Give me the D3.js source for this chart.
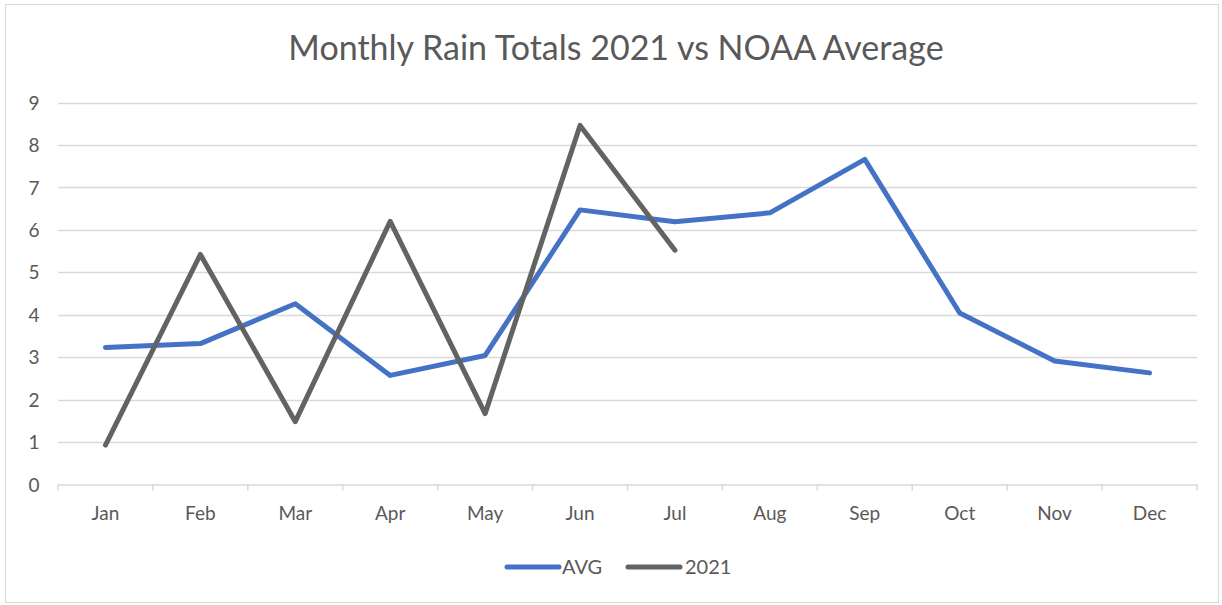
<!DOCTYPE html>
<html><head><meta charset="utf-8">
<script src="https://cdn.jsdelivr.net/npm/d3@7"></script>
<style>body{margin:0;background:#fff;}svg{display:block;font-family:Lato,"Open Sans",sans-serif;}</style>
</head><body><svg id="c" width="1222" height="605"></svg>
<script>
const months = ["Jan","Feb","Mar","Apr","May","Jun","Jul","Aug","Sep","Oct","Nov","Dec"];
const avgValues = [3.23,3.32,4.26,2.57,3.04,6.47,6.19,6.40,7.66,4.04,2.91,2.63];
const values2021 = [0.93,5.42,1.48,6.20,1.67,8.46,5.52];
const yTicks = [0,1,2,3,4,5,6,7,8,9];
const seriesNames = ["AVG","2021"];
const colors = ["#4472C4","#636363"];

const svg = d3.select("#c");
svg.append("rect").attr("x",5.5).attr("y",4.5).attr("width",1213).attr("height",598)
  .attr("fill","#fff").attr("stroke","#d9d9d9").attr("stroke-width",1);

const L=58, R=1197, T=102.5, B=484.5;
const x = d3.scaleBand().domain(months).range([L,R]);
const y = d3.scaleLinear().domain([0,9]).range([B,T]);

svg.append("text").attr("x",616).attr("y",60).attr("text-anchor","middle")
  .attr("font-size",34).attr("fill","#595959").text("Monthly Rain Totals 2021 vs NOAA Average");

// gridlines
svg.append("g").selectAll("line").data(yTicks.filter(d=>d>0)).join("line")
  .attr("x1",L).attr("x2",R).attr("y1",d=>Math.round(y(d))+0.5).attr("y2",d=>Math.round(y(d))+0.5)
  .attr("stroke","#d9d9d9").attr("stroke-width",1.5);

// y labels
const yAxis = d3.axisLeft(y).tickValues(yTicks).tickSize(0).tickPadding(0).tickFormat(d3.format("d"));
const gy = svg.append("g").attr("transform",`translate(${L-24},0)`).call(yAxis);
gy.select(".domain").remove();
gy.selectAll("text").attr("font-size",19).attr("fill","#595959").attr("font-family","Lato,'Open Sans',sans-serif").attr("text-anchor","middle").attr("dy","0.35em");

// x axis
const gx = svg.append("g").attr("transform",`translate(0,${B})`)
  .call(d3.axisBottom(x).tickSize(0).tickPadding(22));
gx.select(".domain").attr("stroke","#d9d9d9").attr("stroke-width",1.5);
gx.selectAll("text").attr("font-size",19).attr("fill","#595959").attr("font-family","Lato,'Open Sans',sans-serif");
// category boundary ticks
const bounds = months.map(m=>x(m)).concat([R]);
svg.append("g").selectAll("line").data(bounds).join("line")
  .attr("x1",d=>d).attr("x2",d=>d).attr("y1",B).attr("y2",B+6)
  .attr("stroke","#d9d9d9").attr("stroke-width",1.5);

const line = d3.line().x((d,i)=>x(months[i])+x.bandwidth()/2).y(d=>y(d));
[avgValues, values2021].forEach((vals,k)=>{
  svg.append("path").datum(vals).attr("d",line).attr("fill","none")
    .attr("stroke",colors[k]).attr("stroke-width",5).attr("stroke-linejoin","round").attr("stroke-linecap","round");
});

// legend
const leg = [{x:507,tx:562},{x:628,tx:685}];
seriesNames.forEach((n,k)=>{
  svg.append("line").attr("x1",leg[k].x).attr("x2",leg[k].x+52).attr("y1",567).attr("y2",567)
    .attr("stroke",colors[k]).attr("stroke-width",5).attr("stroke-linecap","round");
  svg.append("text").attr("x",leg[k].tx).attr("y",574).attr("font-size",20).attr("fill","#595959").text(n);
});
</script></body></html>
